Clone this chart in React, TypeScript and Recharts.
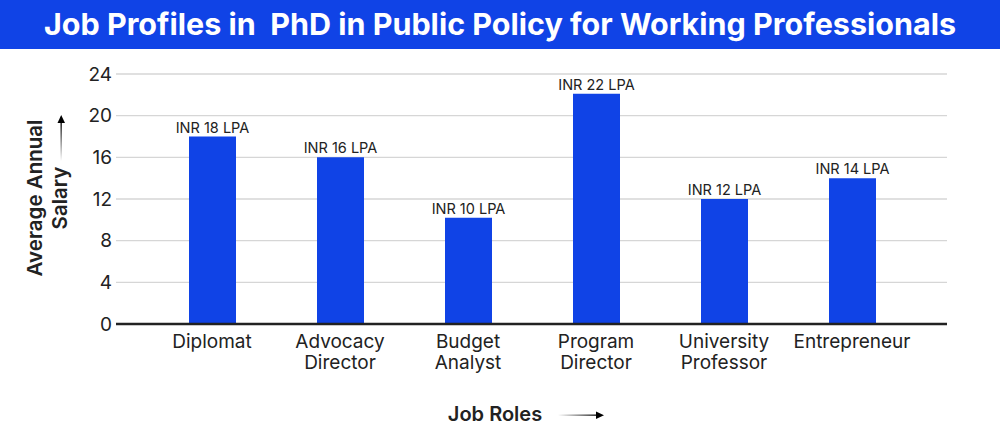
import * as React from 'react';
import { BarChart, Bar, XAxis, YAxis, CartesianGrid, LabelList } from 'recharts';

const FONT = 'Inter, "Noto Sans", sans-serif';
const BLUE = '#1043e6';

const roles = ['Diplomat', 'Advocacy\nDirector', 'Budget\nAnalyst', 'Program\nDirector', 'University\nProfessor', 'Entrepreneur'];
const salary = [18, 16, 10.2, 22.1, 12, 14];
const salaryLabels = ['INR 18 LPA', 'INR 16 LPA', 'INR 10 LPA', 'INR 22 LPA', 'INR 12 LPA', 'INR 14 LPA'];
const yTicks = [0, 4, 8, 12, 16, 20, 24];

const data = roles.map((role, i) => ({ role, salary: salary[i], label: salaryLabels[i] }));

const RoleTick = (props: any) => {
  const { x, y, payload } = props;
  const lines = String(payload.value).split('\n');
  return (
    <text x={x} y={y} textAnchor="middle" fill="#222" fontSize={19} fontFamily={FONT}>
      {lines.map((l, i) => (
        <tspan key={i} x={x} dy={i === 0 ? 16 : 21}>{l}</tspan>
      ))}
    </text>
  );
};

const BarLabel = (props: any) => {
  const { x, y, width, value } = props;
  return (
    <text x={x + width / 2} y={y - 4} textAnchor="middle" fill="#222" fontSize={14.5} fontFamily={FONT}>
      {value}
    </text>
  );
};

const YLabel = () => (
  <g fontFamily={FONT} fill="#222" fontWeight={600} fontSize={20.5}>
    <defs>
      <linearGradient id="upArrow" x1="0" y1="1" x2="0" y2="0">
        <stop offset="0" stopColor="#fff" />
        <stop offset="1" stopColor="#000" />
      </linearGradient>
      <linearGradient id="rightArrow" x1="0" y1="0" x2="1" y2="0">
        <stop offset="0" stopColor="#fff" />
        <stop offset="1" stopColor="#000" />
      </linearGradient>
    </defs>
    <text transform="translate(42,149) rotate(-90)" textAnchor="middle">Average Annual</text>
    <text transform="translate(67,149) rotate(-90)" textAnchor="middle">Salary</text>
    <rect x={60.5} y={74} width={1.3} height={38} fill="url(#upArrow)" />
    <path d="M61.2,66 L57.5,74 L65,74 Z" fill="#000" />
  </g>
);

const XLabel = () => (
  <g fontFamily={FONT}>
    <text x={495} y={372} textAnchor="middle" fill="#222" fontWeight={600} fontSize={20}>Job Roles</text>
    <rect x={558} y={365.5} width={40} height={1.3} fill="url(#rightArrow)" />
    <path d="M604,366.2 L596,362.5 L596,370 Z" fill="#000" />
  </g>
);

export default function App() {
  return (
    <div style={{ position: 'absolute', left: 0, top: 0, width: 1000, height: 436, background: '#fff' }}>
      <div style={{
        height: 49, background: BLUE, color: '#fff', fontFamily: FONT, fontWeight: 700,
        fontSize: 30.5, lineHeight: '47px', textAlign: 'center', whiteSpace: 'pre'
      }}>
        Job Profiles in  PhD in Public Policy for Working Professionals
      </div>
      <BarChart width={1000} height={387} data={data} barSize={47}
        margin={{ top: 25, right: 53, left: 0, bottom: 0 }}>
        <CartesianGrid vertical={false} stroke="#d6d6d6" strokeWidth={1.3} />
        <XAxis dataKey="role" interval={0} height={112} padding={{ left: 32, right: 31 }}
          tickLine={false} axisLine={{ stroke: '#222', strokeWidth: 2.5 }}
          tick={<RoleTick />} label={<XLabel />} />
        <YAxis width={116} domain={[0, 24]} ticks={yTicks} interval={0}
          tickLine={false} axisLine={false} tickSize={0} tickMargin={4}
          tick={{ fill: '#222', fontSize: 19, fontFamily: FONT }} label={<YLabel />} />
        <Bar dataKey="salary" fill={BLUE} isAnimationActive={false}>
          <LabelList dataKey="label" content={<BarLabel />} />
        </Bar>
      </BarChart>
    </div>
  );
}
